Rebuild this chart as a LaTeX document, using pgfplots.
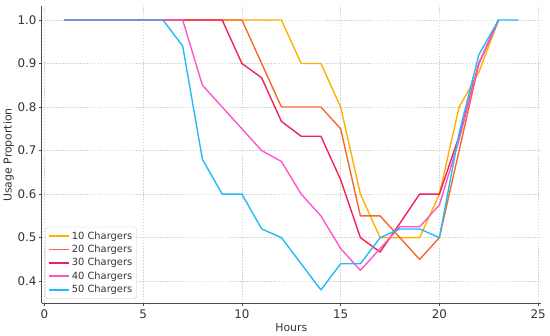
\documentclass[border=0pt]{standalone}
\usepackage{fontspec}
\setmainfont{DejaVu Sans}
\usepackage{pgfplots}
\pgfplotsset{compat=1.18}
\definecolor{cA}{HTML}{FFB000}
\definecolor{cB}{HTML}{F26A2A}
\definecolor{cC}{HTML}{EE2255}
\definecolor{cD}{HTML}{FF55C8}
\definecolor{cE}{HTML}{22BBF5}
\definecolor{txt}{HTML}{333333}
\definecolor{spine}{HTML}{4D4D4D}
\begin{document}
\begin{tikzpicture}[x=1bp,y=1bp]
\begin{axis}[
  name=ax,
  scale only axis,
  width=503bp, height=299bp,
  xmin=-0.15, xmax=25.15,
  ymin=0.349, ymax=1.031,
  xtick={0,5,10,15,20,25},
  ytick={0.4,0.5,0.6,0.7,0.8,0.9,1.0},
  yticklabel style={xshift=1.5bp, /pgf/number format/.cd,fixed,fixed zerofill,precision=1},
  /pgf/number format/assume math mode=true,
  ticklabel style={font=\fontsize{12}{14}\selectfont, text=txt},
  axis x line*=bottom, axis y line*=left,
  axis line style={spine, line width=1.4pt},
  tick align=outside, major tick length=3bp,
  tick style={spine, line width=0.8pt},
  grid=major,
  major grid style={black!16, dash pattern=on 1.5pt off 1.5pt, line width=0.6pt},
  xlabel={Hours}, ylabel={Usage Proportion},
  label style={font=\fontsize{11}{13}\selectfont, text=txt},
  xlabel style={yshift=2bp},
  ylabel style={yshift=-3bp},
  legend style={font=\fontsize{10}{12}\selectfont, text=txt, draw=black!20, rounded corners=2pt, fill=white, at={(0.008,0.015)}, anchor=south west, row sep=0.5pt, inner sep=2.5pt},
  legend cell align=left,
  legend image code/.code={\draw[#1, line width=1.8pt] (0bp,0bp) -- (20bp,0bp);},
  every axis plot/.append style={line width=1.4pt, line join=round},
  clip=false,
]
\addplot[cA] coordinates {(1,1)(2,1)(3,1)(4,1)(5,1)(6,1)(7,1)(8,1)(9,1)(10,1)(11,1)(12,1)(13,0.9)(14,0.9)(15,0.8)(16,0.6)(17,0.5)(18,0.5)(19,0.5)(20,0.6)(21,0.8)(22,0.88)(23,1)};
\addlegendentry{10 Chargers}
\addplot[cB] coordinates {(1,1)(2,1)(3,1)(4,1)(5,1)(6,1)(7,1)(8,1)(9,1)(10,1)(11,0.9)(12,0.8)(13,0.8)(14,0.8)(15,0.75)(16,0.55)(17,0.55)(18,0.5)(19,0.45)(20,0.5)(21,0.7)(22,0.9)(23,1)};
\addlegendentry{20 Chargers}
\addplot[cC] coordinates {(1,1)(2,1)(3,1)(4,1)(5,1)(6,1)(7,1)(8,1)(9,1)(10,0.9)(11,0.867)(12,0.767)(13,0.733)(14,0.733)(15,0.633)(16,0.5)(17,0.467)(18,0.533)(19,0.6)(20,0.6)(21,0.733)(22,0.9)(23,1)};
\addlegendentry{30 Chargers}
\addplot[cD] coordinates {(1,1)(2,1)(3,1)(4,1)(5,1)(6,1)(7,1)(8,0.85)(9,0.8)(10,0.75)(11,0.7)(12,0.675)(13,0.6)(14,0.55)(15,0.475)(16,0.425)(17,0.475)(18,0.525)(19,0.525)(20,0.575)(21,0.725)(22,0.9)(23,1)};
\addlegendentry{40 Chargers}
\addplot[cE] coordinates {(1,1)(2,1)(3,1)(4,1)(5,1)(6,1)(7,0.94)(8,0.68)(9,0.6)(10,0.6)(11,0.52)(12,0.5)(13,0.44)(14,0.38)(15,0.44)(16,0.44)(17,0.5)(18,0.52)(19,0.52)(20,0.5)(21,0.74)(22,0.92)(23,1)(24,1)};
\addlegendentry{50 Chargers}
\end{axis}
\path ([yshift=6.5bp]ax.north) coordinate (t);
\path ([xshift=9bp]ax.east) coordinate (r);
\end{tikzpicture}
\end{document}
